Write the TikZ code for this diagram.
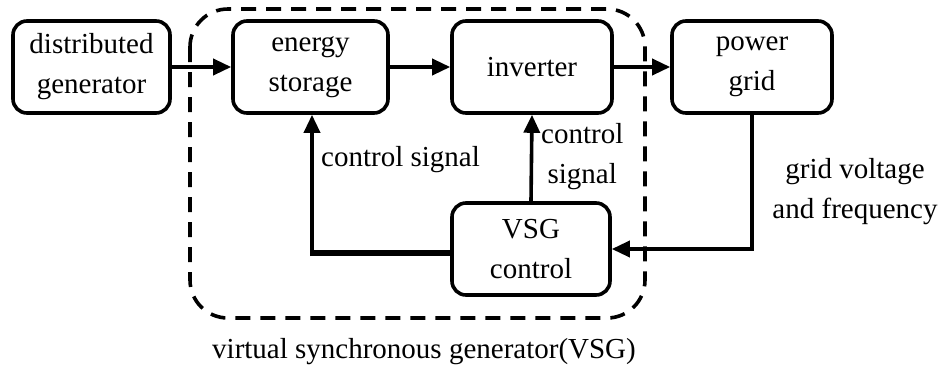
\documentclass[tikz,border=0pt]{standalone}
\usepackage{fontspec}
\setmainfont{Liberation Serif}
\usetikzlibrary{arrows.meta}
\begin{document}
\begin{tikzpicture}[x=1pt,y=-1pt,
  blk/.style={draw,line width=3.6pt,rounded corners=14pt,minimum width=#1,minimum height=92pt,align=center,inner sep=0pt},
  blk/.default=157pt,
  conn/.style={line width=3.6pt,-{Triangle[length=18pt,width=16pt]}},
  lbl/.style={align=center,inner sep=0pt},
  every node/.style={font=\fontsize{29}{40}\selectfont}]
\useasboundingbox (0,0) rectangle (945,373);
\draw[line width=3.6pt,dash pattern=on 15pt off 10pt,rounded corners=38pt] (190,9) rectangle (645,318);
\node[blk] (dg) at (91.5,67) {distributed\\generator};
\node[blk=155pt] (es) at (310.5,67) {energy\\storage};
\node[blk=160pt] (inv) at (532,67) {inverter};
\node[blk=160pt] (pg) at (752,67) {power\\grid};
\node[blk=158pt] (vsg) at (531,249) {VSG\\control};
\draw[conn] (dg) -- (es);
\draw[conn] (es) -- (inv);
\draw[conn] (inv) -- (pg);
\draw[conn] (pg.south) |- (vsg.east);
\draw[conn] (vsg.north) -- (inv.south);
\draw[line width=6pt] (vsg.west |- 0,253) -- (312,253);
\draw[conn] (312,256) -- (es.south -| 312,0);
\node[lbl,anchor=west] (l1) at (321,160) {control signal};
\node[lbl,anchor=west] (l2) at (541,157) {control\\signal};
\node[lbl] (l3) at (855,192) {grid voltage\\and frequency};
\node[lbl] (l4) at (424,352) {virtual synchronous generator(VSG)};
\end{tikzpicture}
\end{document}
